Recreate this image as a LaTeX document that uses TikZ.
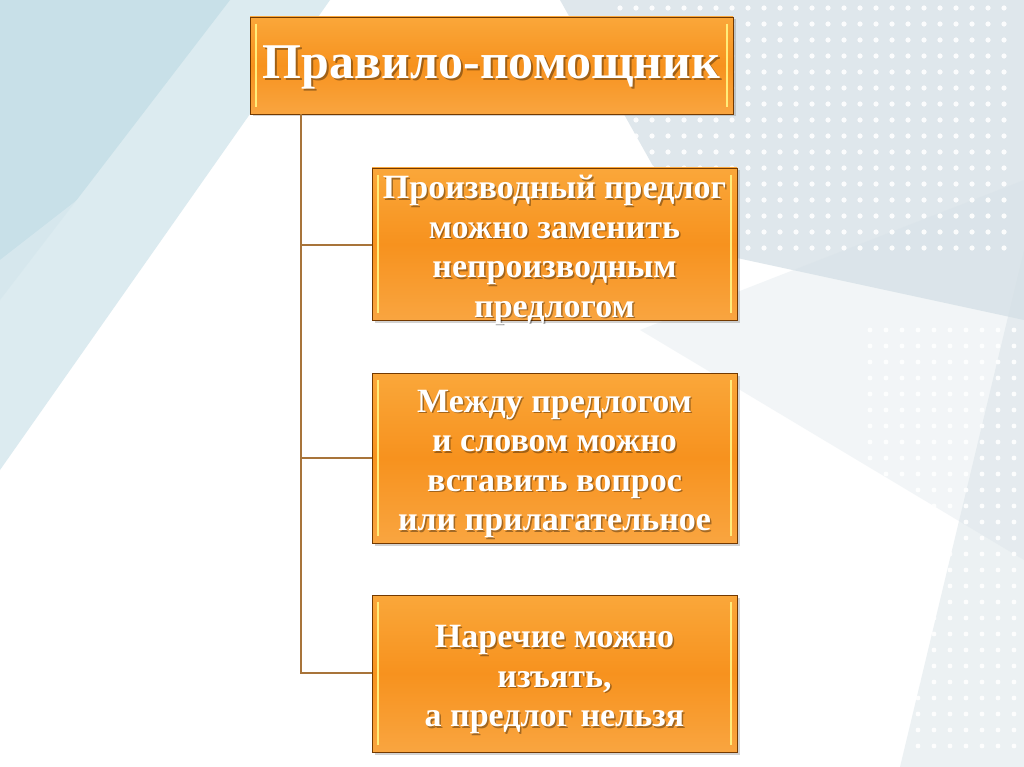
\documentclass[tikz,border=0pt]{standalone}
\usepackage{fontspec}
\setmainfont{Liberation Serif}
\usetikzlibrary{shadows}
\definecolor{ortop}{HTML}{FAA73A}
\definecolor{ormid}{HTML}{F7921E}
\definecolor{orbot}{HTML}{F9A540}
\definecolor{orline}{HTML}{A8743A}
\definecolor{hilite}{HTML}{FFEC7A}
\definecolor{bgblue}{HTML}{C3DEE6}
\definecolor{bgblue2}{HTML}{DCEBF0}
\definecolor{bggray}{HTML}{D5E0E6}
\tikzset{
  obox/.style={draw=black!55!orange, line width=0.8pt, top color=ortop, bottom color=orbot, middle color=ormid,
    drop shadow={opacity=0.35, shadow xshift=2.5pt, shadow yshift=-2.5pt}, inner sep=0pt},
  conn/.style={draw=orline, line width=2pt},
  otext/.style={text=white, align=center, font=\bfseries\fontsize{34}{39.5}\selectfont},
  oshadow/.style={text=black, opacity=0.35, align=center, font=\bfseries\fontsize{34}{39.5}\selectfont},
  hl/.style={draw=hilite, line width=2pt}
}
\newcommand\ORbox[7]{%
  \node[obox, minimum width=#4pt, minimum height=#5pt] (#1) at (#2,#3) {};
  \draw[hl] ([xshift=6pt,yshift=-7pt]#1.north west) -- ([xshift=6pt,yshift=7pt]#1.south west);
  \draw[hl] ([xshift=-6pt,yshift=-7pt]#1.north east) -- ([xshift=-6pt,yshift=7pt]#1.south east);
  \node[oshadow] at ([xshift=1.5pt,yshift=-7.5pt]#1.center) {#7};
  \node[otext,#6] at ([yshift=-6pt]#1.center) {#7};
}
\begin{document}
\begin{tikzpicture}[x=1pt,y=-1pt]
\useasboundingbox (0,0) rectangle (1024,767);
\fill[white] (0,0) rectangle (1024,767);
% background decoration
\fill[bgblue2] (0,0) -- (330,0) -- (0,470) -- cycle;
\fill[bgblue, opacity=0.8] (0,0) -- (230,0) -- (0,300) -- cycle;
\fill[bgblue2, opacity=0.7] (0,260) -- (180,120) -- (0,420) -- cycle;
\fill[bggray, opacity=0.75] (560,0) -- (1024,0) -- (1024,320) -- (700,250) -- cycle;
\fill[bggray, opacity=0.45] (1024,250) -- (1024,767) -- (900,767) -- cycle;
\fill[bggray, opacity=0.3] (640,330) -- (1024,180) -- (1024,560) -- cycle;
\foreach \i in {0,...,24} {
  \foreach \j in {0,...,15} {
    \pgfmathsetmacro\xx{620+16*\i}
    \pgfmathsetmacro\yy{8+16*\j}
    \fill[white, opacity=0.9] (\xx,\yy) circle (2.6pt);
  }
}
\foreach \i in {0,...,9} {
  \foreach \j in {0,...,26} {
    \pgfmathsetmacro\xx{870+16*\i}
    \pgfmathsetmacro\yy{330+16*\j}
    \fill[white, opacity=0.9] (\xx,\yy) circle (2.4pt);
  }
}
% boxes
\node[obox, minimum width=483pt, minimum height=97pt] (title) at (491.5,65.5) {};
\draw[hl] ([xshift=6pt,yshift=-7pt]title.north west) -- ([xshift=6pt,yshift=7pt]title.south west);
\draw[hl] ([xshift=-6pt,yshift=-7pt]title.north east) -- ([xshift=-6pt,yshift=7pt]title.south east);
\node[text=black, opacity=0.35, font=\bfseries\fontsize{50}{55}\selectfont] at ([xshift=2pt,yshift=-4pt]title.center) {Правило-помощник};
\node[text=white, font=\bfseries\fontsize{50}{55}\selectfont] (titletext) at ([yshift=-2pt]title.center) {Правило-помощник};

\ORbox{b1}{554.5}{244}{365}{152}{}{Производный предлог\\можно заменить\\непроизводным\\предлогом}
\ORbox{b2}{554.5}{458}{365}{170}{}{Между предлогом\\и словом можно\\вставить вопрос\\или прилагательное}
\ORbox{b3}{554.5}{673.5}{365}{157}{}{Наречие можно\\изъять,\\а предлог нельзя}

% connectors
\coordinate (top) at (301,114);
\coordinate (j1) at (301,245);
\coordinate (j2) at (301,458);
\coordinate (j3) at (301,673);
\draw[conn] (title.south -| top) -- (j3) -- (b3.west |- j3);
\draw[conn] (j1) -- (b1.west |- j1);
\draw[conn] (j2) -- (b2.west |- j2);
\end{tikzpicture}
\end{document}
